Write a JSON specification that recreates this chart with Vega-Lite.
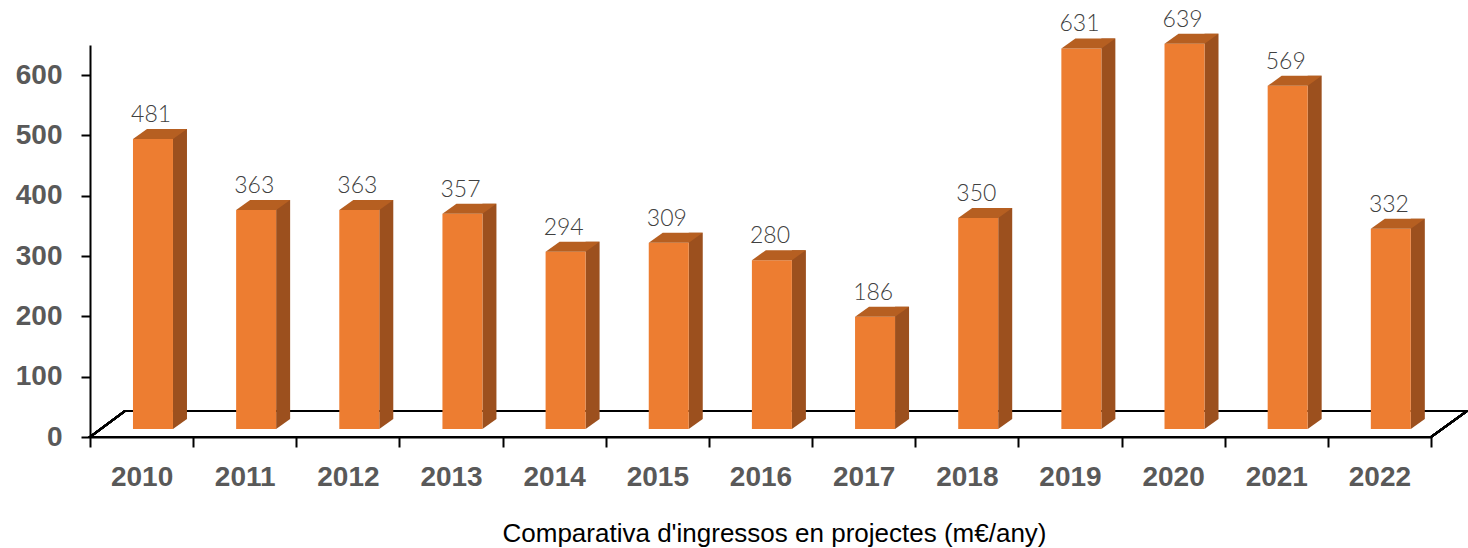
{
  "$schema": "https://vega.github.io/schema/vega-lite/v6.json",
  "autosize": "none",
  "width": 1341,
  "height": 392,
  "padding": {"left": 90, "top": 45, "right": 37, "bottom": 111},
  "background": "white",
  "config": {"view": {"stroke": null}},
  "data": {
    "values": [
      {"year": "2010", "value": 481},
      {"year": "2011", "value": 363},
      {"year": "2012", "value": 363},
      {"year": "2013", "value": 357},
      {"year": "2014", "value": 294},
      {"year": "2015", "value": 309},
      {"year": "2016", "value": 280},
      {"year": "2017", "value": 186},
      {"year": "2018", "value": 350},
      {"year": "2019", "value": 631},
      {"year": "2020", "value": 639},
      {"year": "2021", "value": 569},
      {"year": "2022", "value": 332}
    ]
  },
  "encoding": {
    "x": {
      "field": "year",
      "type": "ordinal",
      "scale": {"paddingInner": 0, "paddingOuter": 0},
      "axis": {
        "title": "Comparativa d'ingressos en projectes (m€/any)",
        "titleFont": "Liberation Sans",
        "titleFontSize": 26,
        "titleFontWeight": "normal",
        "titleColor": "#000000",
        "titlePadding": 29,
        "titleX": 684,
        "labelAngle": 0,
        "labelFont": "Liberation Sans",
        "labelFontSize": 28,
        "labelFontWeight": "bold",
        "labelColor": "#595959",
        "labelPadding": 16,
        "tickBand": "extent",
        "tickSize": 10,
        "tickWidth": 2,
        "tickColor": "#000000",
        "domainColor": "#000000",
        "domainWidth": 2
      }
    }
  },
  "layer": [
    {
      "mark": {
        "type": "point",
        "shape": "M-0.0516,0L-0.0166,-0.026L1.3254,-0.026L1.2894,0Z",
        "size": 4000000,
        "filled": false,
        "fill": null,
        "stroke": "#000000",
        "strokeWidth": 2,
        "opacity": 1
      },
      "encoding": {
        "x": {"datum": "2010", "type": "ordinal"},
        "y": {"datum": 0, "type": "quantitative"}
      }
    },
    {
      "mark": {"type": "bar", "width": 14, "xOffset": 38.4, "yOffset": -18, "y2Offset": -18, "color": "#9C501E"},
      "encoding": {
        "y": {
          "field": "value",
          "type": "quantitative",
          "scale": {"domain": [0, 650], "nice": false},
          "axis": {
            "title": null,
            "values": [0, 50, 100, 150, 200, 250, 300, 350, 400, 450, 500, 550, 600, 650],
            "labelExpr": "datum.value % 100 == 0 ? datum.label : ''",
            "labelFont": "Liberation Sans",
            "labelFontSize": 28,
            "labelFontWeight": "bold",
            "labelColor": "#595959",
            "labelPadding": 19,
            "tickSize": 9,
            "tickWidth": 2,
            "tickColor": "#000000",
            "domainColor": "#000000",
            "domainWidth": 2,
            "grid": false
          }
        }
      }
    },
    {
      "mark": {
        "type": "point",
        "shape": "M0.628,-0.36L0.628,-0.16L0.908,-0.36Z",
        "size": 10000,
        "filled": true,
        "color": "#9C501E",
        "strokeWidth": 0,
        "opacity": 1
      },
      "encoding": {
        "y": {"datum": 0, "type": "quantitative"}
      }
    },
    {
      "mark": {"type": "bar", "width": 40, "xOffset": 11.4, "yOffset": -8, "y2Offset": -8, "color": "#ED7D31"},
      "encoding": {
        "y": {"field": "value", "type": "quantitative"}
      }
    },
    {
      "mark": {
        "type": "point",
        "shape": "M-0.172,-0.16L0.108,-0.36L0.908,-0.36L0.628,-0.16Z",
        "size": 10000,
        "filled": true,
        "color": "#B65F21",
        "strokeWidth": 0,
        "opacity": 1
      },
      "encoding": {
        "y": {"field": "value", "type": "quantitative"}
      }
    },
    {
      "mark": {
        "type": "text",
        "dx": 9.5,
        "dy": -25,
        "baseline": "alphabetic",
        "align": "center",
        "font": "Lato",
        "fontWeight": 300,
        "fontSize": 23,
        "color": "#404040"
      },
      "encoding": {
        "y": {"field": "value", "type": "quantitative"},
        "text": {"field": "value", "type": "quantitative"}
      }
    }
  ]
}
